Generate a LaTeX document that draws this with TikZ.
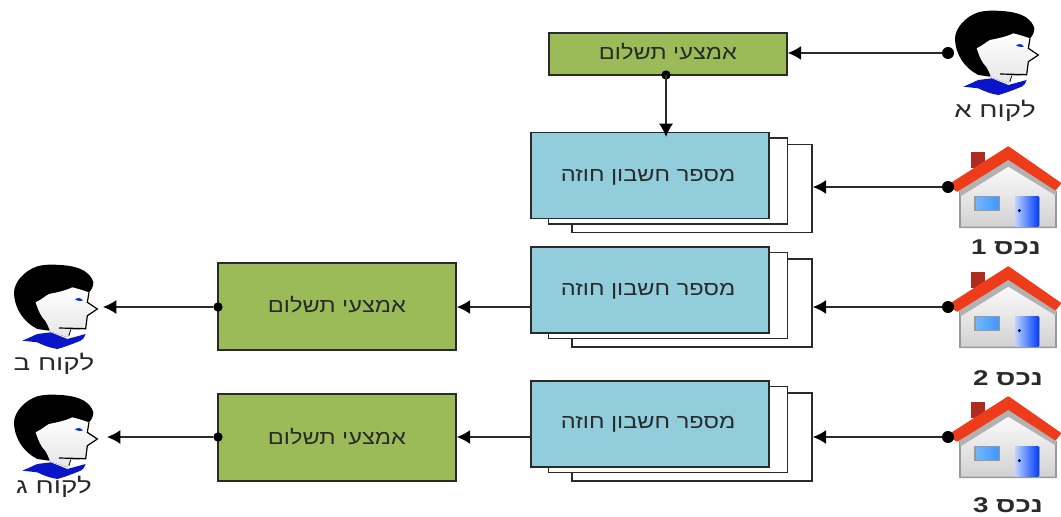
\documentclass[tikz,border=0pt]{standalone}
\usepackage{fontspec}
\usetikzlibrary{arrows.meta}
\setmainfont{Liberation Sans}
\newfontfamily\hebfont[Script=Hebrew,FakeStretch=1.18]{Liberation Sans}
\newfontfamily\capfont[Script=Hebrew,FakeStretch=1.3]{Liberation Sans}
\TeXXeTstate=1
\definecolor{greenbox}{HTML}{9BBB59}
\definecolor{bluebox}{HTML}{92CDDC}
\definecolor{inkdark}{HTML}{2A2A2A}
\definecolor{roofred}{HTML}{EE3B1A}
\definecolor{chimney}{HTML}{B02A20}
\definecolor{shirt}{HTML}{0A14C8}
\newcommand{\heb}[1]{{\hebfont\beginR #1\endR}}
\newcommand{\capt}[1]{{\capfont\beginR #1\endR}}
\tikzset{
  x=0.75pt,y=-0.75pt,
  boxline/.style={draw=inkdark,line width=1.2pt},
  paybox/.style={boxline,fill=greenbox,minimum width=178.5pt,inner sep=0pt},
  acctbox/.style={boxline,fill=bluebox,minimum width=178.5pt,minimum height=64.5pt,inner sep=0pt},
  boxtext/.style={inner sep=0pt,text=inkdark,font=\fontsize{15}{17}\selectfont},
  backbox/.style={boxline,fill=white,inner sep=0pt},
  dotmark/.style={circle,fill=black,inner sep=0pt,minimum size=7pt},
  facedot/.style={circle,fill=black,inner sep=0pt,minimum size=9pt},
  conn/.style={draw=inkdark,line width=1.1pt,-{Latex[length=10pt,width=10.5pt,black]}},
  caption/.style={inner sep=0pt,text=inkdark,font=\fontsize{16}{18}\selectfont},
  capbold/.style={inner sep=0pt,text=inkdark,font=\fontsize{16}{18}\selectfont\bfseries},
  pics/person/.style={code={
    \fill[shirt] (250,260) .. controls (270,252) and (285,244) .. (295,240) -- (335,235) -- (385,255) -- (440,240) .. controls (438,250) and (432,256) .. (425,260) .. controls (400,270) and (380,278) .. (355,285) .. controls (335,282) and (315,275) .. (295,265) -- cycle;
    \fill[black] (330,230) -- (295,225) .. controls (255,205) and (226,165) .. (225,115) .. controls (226,85) and (255,50) .. (295,37) .. controls (320,30) and (345,32) .. (365,33) .. controls (400,35) and (420,42) .. (435,50) .. controls (450,60) and (460,72) .. (463,85) .. controls (463,98) and (457,108) .. (450,115) -- (380,180) -- cycle;
    \fill[top color=white,bottom color=black!10] (290,145) .. controls (310,135) and (320,125) .. (330,120) .. controls (355,115) and (380,110) .. (400,100) .. controls (420,105) and (435,110) .. (450,115) -- (445,145) -- (475,165) -- (445,185) -- (440,225) -- (395,227) -- (385,250) -- (335,233) .. controls (325,215) and (325,205) .. (310,190) .. controls (300,175) and (295,160) .. (290,145) -- cycle;
    \draw[black,line width=0.9pt] (360,222) -- (440,224) -- (445,185) -- (475,165) -- (445,145) -- (450,115);
    \draw[black,line width=0.6pt] (395,227) -- (390,245);
    \fill[shirt!85!cyan] (408,137) .. controls (415,130) and (425,130) .. (432,140) .. controls (425,142) and (415,141) .. (408,137) -- cycle;
  }},
  pics/house/.style={code={
    \fill[chimney] (272,455) rectangle (315,505);
    \draw[line width=1.2pt,draw=black!40,top color=white,bottom color=black!18] (240,575) -- (385,480) -- (528,575) -- (528,682) -- (240,682) -- cycle;
    \fill[black!30] (240,572) -- (385,478) -- (528,572) -- (528,587) -- (385,500) -- (240,590) -- cycle;
    \draw[roofred,fill=roofred,line width=1.5pt,line join=round] (205,557) -- (385,442) -- (540,550) -- (526,568) -- (385,476) -- (232,572) -- cycle;
    \draw[line width=1pt,draw=black!40,left color=blue!50!cyan!55!white,right color=blue!55!cyan!75!white] (285,590) rectangle (358,632);
    \draw[line width=1pt,draw=black!40] (478,590) -- (478,678);
    \fill[left color=cyan!30!blue!25!white,right color=blue!75!cyan] (405,590) rectangle (476,678);
    \fill[black!70!blue] (418,632) circle (5);
  }}
}
\begin{document}
\begin{tikzpicture}
\useasboundingbox (0,0) rectangle (1061,517);
% pictures
\coordinate (oa) at (880,0);
\coordinate (ob) at (-61,254);
\coordinate (oc) at (-61,384);
\coordinate (o1) at (880,0);
\coordinate (o2) at (880,120);
\coordinate (o3) at (880,250);
\pic[x=0.25pt,y=-0.25pt] at (oa) {person};
\pic[x=0.25pt,y=-0.25pt] at (ob) {person};
\pic[x=0.25pt,y=-0.25pt] at (oc) {person};
\pic[x=0.25pt,y=-0.25pt] at (o1) {house};
\pic[x=0.25pt,y=-0.25pt] at (o2) {house};
\pic[x=0.25pt,y=-0.25pt] at (o3) {house};
% stacked boxes
\foreach \n/\yy/\ty in {1/175.5/177,2/290/291,3/424/424}{
  \node[backbox,minimum width=180pt,minimum height=66pt] (c\n) at (692,\yy+13) {};
  \node[backbox,minimum width=179pt,minimum height=64.5pt] (d\n) at (668,\yy+5.5) {};
  \node[acctbox] (b\n) at (650,\yy) {};
  \node[boxtext] (t\n) at (648,\ty) {\heb{מספר חשבון חוזה}};
}
% payment boxes
\node[paybox,minimum height=31.5pt] (g0) at (668,54) {};
\node[paybox,minimum height=65pt] (g2) at (337,306.5) {};
\node[paybox,minimum height=65pt] (g3) at (337,437.5) {};
\node[boxtext] (tg0) at (668,52) {\heb{אמצעי תשלום}};
\node[boxtext] (tg2) at (337,305) {\heb{אמצעי תשלום}};
\node[boxtext] (tg3) at (337,437) {\heb{אמצעי תשלום}};
% dots and free ends
\node[facedot] (pa) at (948,53) {};
\node[facedot] (h1) at (948,187) {};
\node[facedot] (h2) at (948,307) {};
\node[facedot] (h3) at (948,437) {};
\node[dotmark] (g0s) at (666,75) {};
\node[dotmark] (g2w) at (218,307) {};
\node[dotmark] (g3w) at (218,437) {};
\coordinate (pb) at (103,307);
\coordinate (pc) at (107,437);
\coordinate (b1top) at (666,137);
\coordinate (b2w) at (531,307);
\coordinate (b3w) at (531,437);
% connectors
\draw[conn] (pa) -- (g0.east |- pa);
\draw[conn] (g0s.center) -- (b1top);
\draw[conn] (h1) -- (c1.east |- h1);
\draw[conn] (h2) -- (c2.east |- h2);
\draw[conn] (h3) -- (c3.east |- h3);
\draw[conn] (b2w) -- (g2.east |- b2w);
\draw[conn] (b3w) -- (g3.east |- b3w);
\draw[conn] (g2w) -- (pb);
\draw[conn] (g3w) -- (pc);
% captions
\node[caption] (la) at (995,111) {\capt{לקוח א}};
\node[caption] (lb) at (54,364) {\capt{לקוח ב}};
\node[caption] (lc) at (54,487) {\capt{לקוח ג}};
\node[capbold] (n1) at (1006,247) {\capt{נכס 1}};
\node[capbold] (n2) at (1008,378) {\capt{נכס 2}};
\node[capbold] (n3) at (1008,505) {\capt{נכס 3}};
\end{tikzpicture}
\end{document}
